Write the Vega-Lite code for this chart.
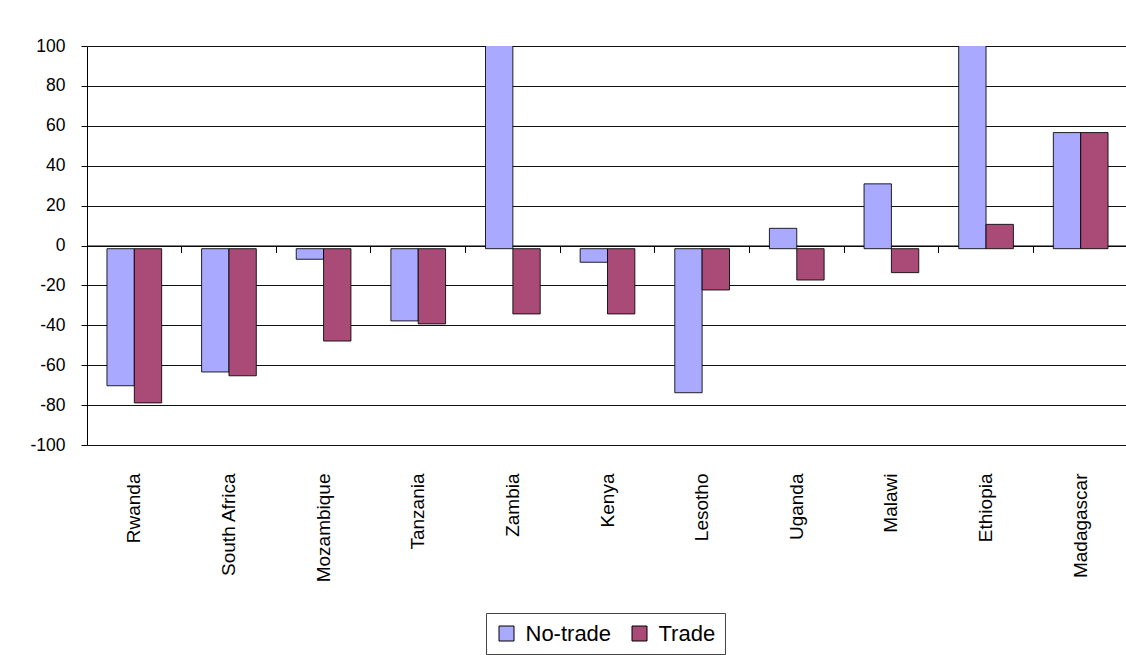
{
  "$schema": "https://vega.github.io/schema/vega-lite/v6.json",
  "width": 1041,
  "height": 399,
  "autosize": "none",
  "padding": {"left": 87, "top": 46, "right": 0, "bottom": 210},
  "background": "white",
  "config": {
    "font": "Liberation Sans",
    "view": {"stroke": null},
    "axis": {"labelColor": "#000", "domainColor": "#000", "tickColor": "#000"}
  },
  "data": {
    "values": [
      {"country": "Rwanda", "series": "No-trade", "value": -70.3},
      {"country": "Rwanda", "series": "Trade", "value": -78.9},
      {"country": "South Africa", "series": "No-trade", "value": -63.4},
      {"country": "South Africa", "series": "Trade", "value": -65.3},
      {"country": "Mozambique", "series": "No-trade", "value": -6.9},
      {"country": "Mozambique", "series": "Trade", "value": -47.9},
      {"country": "Tanzania", "series": "No-trade", "value": -37.8},
      {"country": "Tanzania", "series": "Trade", "value": -39.3},
      {"country": "Zambia", "series": "No-trade", "value": 150},
      {"country": "Zambia", "series": "Trade", "value": -34.3},
      {"country": "Kenya", "series": "No-trade", "value": -8.4},
      {"country": "Kenya", "series": "Trade", "value": -34.3},
      {"country": "Lesotho", "series": "No-trade", "value": -73.8},
      {"country": "Lesotho", "series": "Trade", "value": -22.3},
      {"country": "Uganda", "series": "No-trade", "value": 8.6},
      {"country": "Uganda", "series": "Trade", "value": -17.3},
      {"country": "Malawi", "series": "No-trade", "value": 30.9},
      {"country": "Malawi", "series": "Trade", "value": -13.6},
      {"country": "Ethiopia", "series": "No-trade", "value": 150},
      {"country": "Ethiopia", "series": "Trade", "value": 10.6},
      {"country": "Madagascar", "series": "No-trade", "value": 56.6},
      {"country": "Madagascar", "series": "Trade", "value": 56.6}
    ]
  },
  "layer": [
    {
      "mark": {"type": "bar", "stroke": "#000", "strokeWidth": 1, "strokeOpacity": 0.85, "clip": true},
      "encoding": {
        "x": {
          "field": "country", "type": "nominal", "sort": null,
          "scale": {"paddingInner": 0, "paddingOuter": 0},
          "axis": {
            "orient": "bottom", "title": null, "domain": false, "ticks": false,
            "labelAngle": -90, "labelAlign": "right", "labelBaseline": "middle",
            "labelPadding": 28, "labelFontSize": 19, "labelOverlap": false
          }
        },
        "xOffset": {
          "field": "series", "type": "nominal",
          "scale": {"paddingInner": 0, "paddingOuter": 0.73}
        },
        "y": {
          "field": "value", "type": "quantitative",
          "scale": {"domain": [-100, 100], "nice": false, "zero": false},
          "axis": {
            "orient": "left",
            "title": null, "values": [-100, -80, -60, -40, -20, 0, 20, 40, 60, 80, 100],
            "labelExpr": "datum.value < 0 ? '-' + abs(datum.value) : '' + datum.value",
            "labelOverlap": false,
            "grid": true, "gridColor": "#111", "gridWidth": 1,
            "tickSize": 6, "labelPadding": 16, "labelFontSize": 17.5
          }
        },
        "y2": {"datum": -1.6},
        "color": {
          "field": "series", "type": "nominal",
          "scale": {"domain": ["No-trade", "Trade"], "range": ["#A9A9FF", "#A94B76"]},
          "legend": {
            "title": null, "orient": "none", "legendX": 399, "legendY": 567,
            "direction": "horizontal", "strokeColor": "#444", "fillColor": "white",
            "padding": 9.5, "symbolType": "square", "symbolSize": 225,
            "symbolStrokeColor": "#000", "symbolStrokeWidth": 1,
            "labelFontSize": 22, "labelOffset": 8, "columnPadding": 17, "labelColor": "#000"
          }
        }
      }
    },
    {
      "mark": {"type": "point", "opacity": 0},
      "encoding": {
        "x": {
          "field": "country", "type": "nominal", "sort": null,
          "axis": {
            "orient": "top", "offset": -199.5, "title": null, "labels": false,
            "domain": true, "domainColor": "#000", "domainWidth": 1.2,
            "ticks": true, "tickSize": -7, "bandPosition": 0, "tickColor": "#000", "grid": false
          }
        },
        "y": {"datum": 0, "axis": null}
      }
    }
  ],
  "resolve": {"axis": {"x": "independent", "y": "independent"}}
}
